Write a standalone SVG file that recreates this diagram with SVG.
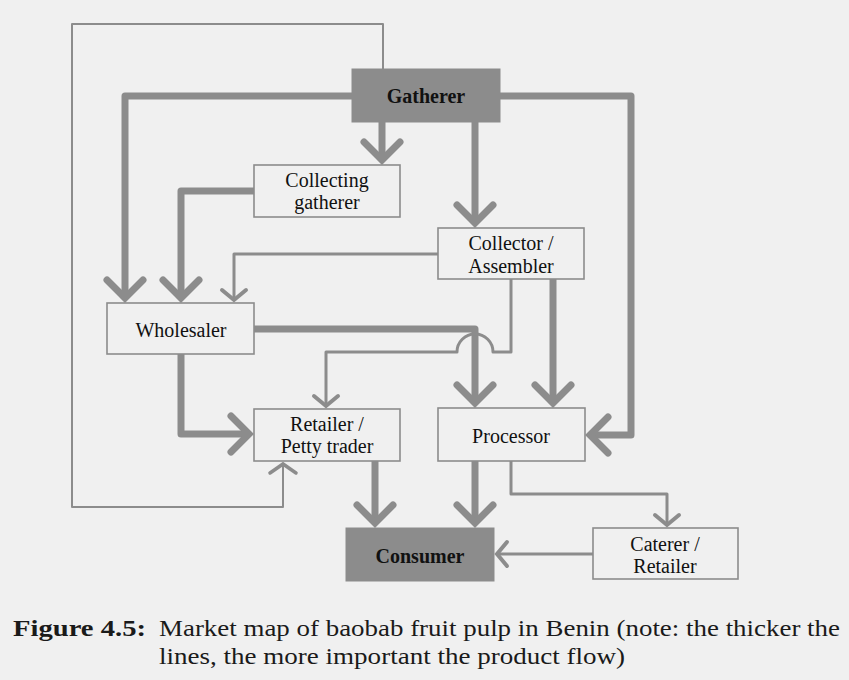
<svg xmlns="http://www.w3.org/2000/svg" width="849" height="680" viewBox="0 0 849 680">
  <style>
    .box { fill: #f0f0f0; stroke: #8c8c8c; stroke-width: 1.6; }
    .dark { fill: #8c8c8c; stroke: #8c8c8c; stroke-width: 1; }
    .lbl { font-family: "Liberation Serif", "Times New Roman", serif; font-size: 20px; fill: #111; text-anchor: middle; }
    .bold { font-weight: bold; }
    .flow { fill: none; stroke: #8c8c8c; stroke-linejoin: round; }
    .thick { stroke-width: 7; }
    .thin { stroke-width: 3; }
    .hair { stroke-width: 2; }
    .cap { font-family: "Liberation Serif", "Times New Roman", serif; font-size: 23px; fill: #1a1a1a; }
  </style>
  <defs>
    <marker id="headThick" markerUnits="userSpaceOnUse" orient="auto" refX="0" refY="0" markerWidth="60" markerHeight="60" viewBox="-30 -30 60 60" overflow="visible">
      <path d="M -18,-18 L 0,0 L -18,18" fill="none" stroke="#8c8c8c" stroke-width="7" stroke-linecap="round" stroke-linejoin="miter"/>
    </marker>
    <marker id="headThin" markerUnits="userSpaceOnUse" orient="auto" refX="0" refY="0" markerWidth="40" markerHeight="40" viewBox="-20 -20 40 40" overflow="visible">
      <path d="M -10,-12 L 0,0 L -10,12" fill="none" stroke="#8c8c8c" stroke-width="4" stroke-linecap="round" stroke-linejoin="miter"/>
    </marker>
    <marker id="headHair" markerUnits="userSpaceOnUse" orient="auto" refX="0" refY="0" markerWidth="40" markerHeight="40" viewBox="-20 -20 40 40" overflow="visible">
      <path d="M -9,-13 L 0,0 L -9,13" fill="none" stroke="#8c8c8c" stroke-width="3.5" stroke-linecap="round" stroke-linejoin="miter"/>
    </marker>
  </defs>

  <rect x="0" y="0" width="849" height="680" fill="#f0f0f0"/>

  <!-- product flows -->
  <g id="connectors">
    <!-- Gatherer around the left to Retailer / Petty trader -->
    <polyline class="flow hair" points="383,69 383,24 72,24 72,507 283,507 283,464" marker-end="url(#headHair)"/>
    <!-- Gatherer to Wholesaler -->
    <polyline class="flow thick" points="352,96 125,96 125,298" marker-end="url(#headThick)"/>
    <!-- Gatherer to Collecting gatherer -->
    <polyline class="flow thick" points="382,122 382,160" marker-end="url(#headThick)"/>
    <!-- Gatherer to Collector / Assembler -->
    <polyline class="flow thick" points="475,122 475,223" marker-end="url(#headThick)"/>
    <!-- Gatherer to Processor -->
    <polyline class="flow thick" points="500,96 631,96 631,435 590,435" marker-end="url(#headThick)"/>
    <!-- Collecting gatherer to Wholesaler -->
    <polyline class="flow thick" points="254,191 181,191 181,298" marker-end="url(#headThick)"/>
    <!-- Collector / Assembler to Wholesaler -->
    <polyline class="flow thin" points="438,254 234,254 234,300" marker-end="url(#headThin)"/>
    <!-- Wholesaler to Processor -->
    <polyline class="flow thick" points="254,329 475,329 475,403" marker-end="url(#headThick)"/>
    <!-- Collector / Assembler to Retailer, hopping over the Wholesaler flow -->
    <path class="flow thin" d="M 511,279 L 511,352 L 493,352 A 18 18 0 0 0 457,352 L 326,352 L 326,406" marker-end="url(#headThin)"/>
    <!-- Collector / Assembler to Processor -->
    <polyline class="flow thick" points="553,279 553,403" marker-end="url(#headThick)"/>
    <!-- Wholesaler to Retailer / Petty trader -->
    <polyline class="flow thick" points="181,354 181,434 249,434" marker-end="url(#headThick)"/>
    <!-- Retailer to Consumer -->
    <polyline class="flow thick" points="375,461 375,523" marker-end="url(#headThick)"/>
    <!-- Processor to Consumer -->
    <polyline class="flow thick" points="475,461 475,523" marker-end="url(#headThick)"/>
    <!-- Processor to Caterer / Retailer -->
    <polyline class="flow thin" points="511,461 511,494 667,494 667,525" marker-end="url(#headThin)"/>
    <!-- Caterer / Retailer to Consumer -->
    <polyline class="flow thin" points="593,554 497,554" marker-end="url(#headThin)"/>
  </g>

  <g id="gatherer">
    <rect class="dark" x="352" y="69" width="148" height="53"/>
    <text class="lbl bold" x="426" y="103">Gatherer</text>
  </g>
  <g id="collecting-gatherer">
    <rect class="box" x="254" y="165" width="146" height="52"/>
    <text class="lbl" x="327" y="187">Collecting</text>
    <text class="lbl" x="327" y="209">gatherer</text>
  </g>
  <g id="collector-assembler">
    <rect class="box" x="438" y="228" width="146" height="51"/>
    <text class="lbl" x="511" y="250">Collector /</text>
    <text class="lbl" x="511" y="273">Assembler</text>
  </g>
  <g id="wholesaler">
    <rect class="box" x="107" y="303" width="147" height="51"/>
    <text class="lbl" x="181" y="337">Wholesaler</text>
  </g>
  <g id="retailer-petty-trader">
    <rect class="box" x="254" y="409" width="146" height="52"/>
    <text class="lbl" x="327" y="431">Retailer /</text>
    <text class="lbl" x="327" y="453">Petty trader</text>
  </g>
  <g id="processor">
    <rect class="box" x="438" y="408" width="147" height="53"/>
    <text class="lbl" x="511" y="443">Processor</text>
  </g>
  <g id="consumer">
    <rect class="dark" x="346" y="528" width="148" height="53"/>
    <text class="lbl bold" x="420" y="563">Consumer</text>
  </g>
  <g id="caterer-retailer">
    <rect class="box" x="593" y="528" width="145" height="51"/>
    <text class="lbl" x="665" y="551">Caterer /</text>
    <text class="lbl" x="665" y="573">Retailer</text>
  </g>

  <g id="caption">
    <text class="cap" x="13" y="636" font-weight="bold" textLength="133" lengthAdjust="spacingAndGlyphs">Figure 4.5:</text>
    <text class="cap" x="159" y="636" textLength="681" lengthAdjust="spacingAndGlyphs">Market map of baobab fruit pulp in Benin (note: the thicker the</text>
    <text class="cap" x="159" y="664" textLength="466" lengthAdjust="spacingAndGlyphs">lines, the more important the product flow)</text>
  </g>
</svg>
